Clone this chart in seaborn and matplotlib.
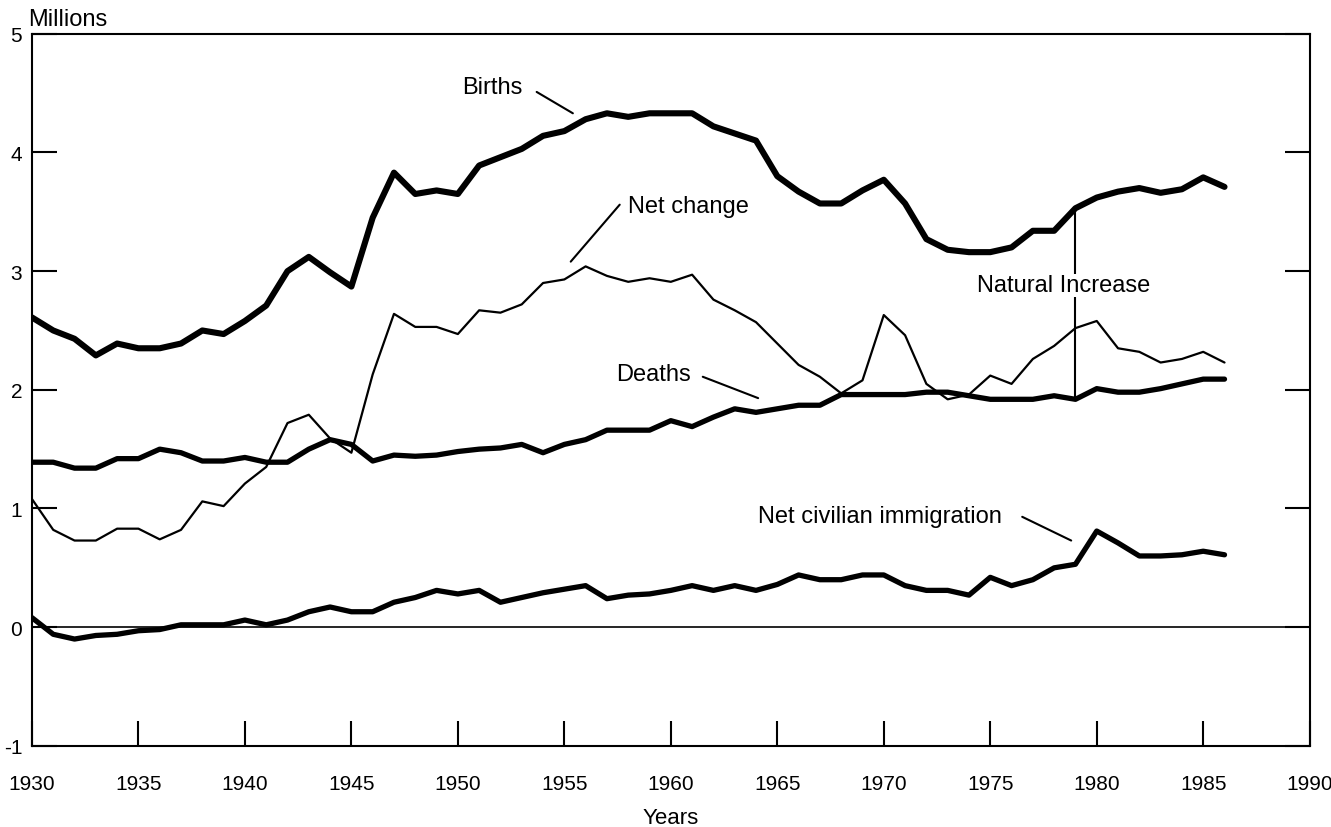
import numpy as np
import pandas as pd
import matplotlib
matplotlib.use("Agg")
import matplotlib.pyplot as plt
import seaborn as sns

# values (millions), one per year 1930-1986
years = list(range(1930, 1987))
births = [2.61, 2.50, 2.43, 2.29, 2.39, 2.35, 2.35, 2.39, 2.50, 2.47,
          2.58, 2.71, 3.00, 3.12, 2.99, 2.87, 3.45, 3.83, 3.65, 3.68,
          3.65, 3.89, 3.96, 4.03, 4.14, 4.18, 4.28, 4.33, 4.30, 4.33,
          4.33, 4.33, 4.22, 4.16, 4.10, 3.80, 3.67, 3.57, 3.57, 3.68,
          3.77, 3.57, 3.27, 3.18, 3.16, 3.16, 3.20, 3.34, 3.34, 3.53,
          3.62, 3.67, 3.70, 3.66, 3.69, 3.79, 3.71]
net_change = [1.08, 0.82, 0.73, 0.73, 0.83, 0.83, 0.74, 0.82, 1.06, 1.02,
              1.21, 1.35, 1.72, 1.79, 1.59, 1.47, 2.13, 2.64, 2.53, 2.53,
              2.47, 2.67, 2.65, 2.72, 2.90, 2.93, 3.04, 2.96, 2.91, 2.94,
              2.91, 2.97, 2.76, 2.67, 2.57, 2.39, 2.21, 2.11, 1.97, 2.08,
              2.63, 2.46, 2.05, 1.92, 1.96, 2.12, 2.05, 2.26, 2.37, 2.52,
              2.58, 2.35, 2.32, 2.23, 2.26, 2.32, 2.23]
deaths = [1.39, 1.39, 1.34, 1.34, 1.42, 1.42, 1.50, 1.47, 1.40, 1.40,
          1.43, 1.39, 1.39, 1.50, 1.58, 1.54, 1.40, 1.45, 1.44, 1.45,
          1.48, 1.50, 1.51, 1.54, 1.47, 1.54, 1.58, 1.66, 1.66, 1.66,
          1.74, 1.69, 1.77, 1.84, 1.81, 1.84, 1.87, 1.87, 1.96, 1.96,
          1.96, 1.96, 1.98, 1.98, 1.95, 1.92, 1.92, 1.92, 1.95, 1.92,
          2.01, 1.98, 1.98, 2.01, 2.05, 2.09, 2.09]
immigration = [0.08, -0.06, -0.10, -0.07, -0.06, -0.03, -0.02, 0.02, 0.02, 0.02,
               0.06, 0.02, 0.06, 0.13, 0.17, 0.13, 0.13, 0.21, 0.25, 0.31,
               0.28, 0.31, 0.21, 0.25, 0.29, 0.32, 0.35, 0.24, 0.27, 0.28,
               0.31, 0.35, 0.31, 0.35, 0.31, 0.36, 0.44, 0.40, 0.40, 0.44,
               0.44, 0.35, 0.31, 0.31, 0.27, 0.42, 0.35, 0.40, 0.50, 0.53,
               0.81, 0.71, 0.60, 0.60, 0.61, 0.64, 0.61]
x_ticks = [1930, 1935, 1940, 1945, 1950, 1955, 1960, 1965, 1970, 1975, 1980, 1985, 1990]
y_ticks = [-1, 0, 1, 2, 3, 4, 5]
natural_year = 1979

df = pd.DataFrame({'year': years, 'births': births, 'net': net_change,
                   'deaths': deaths, 'immig': immigration})

sns.set_style("white")
plt.rcParams['font.family'] = ['Liberation Sans', 'DejaVu Sans']
plt.rcParams['axes.linewidth'] = 1.5
for k in ['text.color', 'axes.labelcolor', 'xtick.color', 'ytick.color', 'axes.edgecolor']:
    plt.rcParams[k] = 'black'

fig = plt.figure(figsize=(13.31, 8.28), dpi=100)
ax = fig.add_axes([0.024, 0.098, 0.960, 0.860])

kw = dict(x='year', data=df, color='black', estimator=None, ax=ax)
sns.lineplot(y='births', linewidth=4.4, **kw)
sns.lineplot(y='net', linewidth=1.6, **kw)
sns.lineplot(y='deaths', linewidth=3.8, **kw)
sns.lineplot(y='immig', linewidth=3.8, **kw)
for l in ax.lines:
    l.set_solid_joinstyle('round')
    l.set_solid_capstyle('round')

ax.axhline(0, color='black', lw=1.2, zorder=1)

ax.set_xlim(1930, 1990)
ax.set_ylim(-1, 5)
ax.set_xticks(x_ticks)
ax.set_yticks(y_ticks)
ax.set_yticklabels(['-1' if v < 0 else str(v) for v in y_ticks])
ax.tick_params(direction='in', length=18, width=1.5, labelsize=15,
               left=True, right=True, bottom=True, top=False)
ax.tick_params(axis='x', pad=20)
ax.tick_params(axis='y', pad=7)
for s in ax.spines.values():
    s.set_color('black')
    s.set_linewidth(1.5)

ax.set_xlabel('Years', fontsize=16, labelpad=10)
ax.set_ylabel('')
ax.text(-0.003, 1.005, 'Millions', transform=ax.transAxes, fontsize=17,
        ha='left', va='bottom')

fs = 17
ax.text(1951.6, 4.55, 'Births', fontsize=fs, ha='center', va='center')
ax.plot([1953.7, 1955.4], [4.51, 4.33], color='black', lw=1.5)
ax.text(1958.0, 3.55, 'Net change', fontsize=fs, ha='left', va='center')
ax.plot([1957.6, 1955.3], [3.56, 3.08], color='black', lw=1.5)
ax.text(1959.2, 2.13, 'Deaths', fontsize=fs, ha='center', va='center')
ax.plot([1961.5, 1964.1], [2.11, 1.93], color='black', lw=1.5)
ax.text(1964.1, 0.94, 'Net civilian immigration', fontsize=fs, ha='left', va='center')
ax.plot([1976.5, 1978.8], [0.93, 0.73], color='black', lw=1.5)

i = years.index(natural_year)
ax.vlines(natural_year, deaths[i], births[i], color='black', lw=1.5, zorder=2)
ax.text(1974.4, 2.88, 'Natural Increase', fontsize=fs, ha='left', va='center',
        zorder=3, bbox=dict(facecolor='white', edgecolor='none', pad=0.5))

fig.savefig('out.png', dpi=100)
